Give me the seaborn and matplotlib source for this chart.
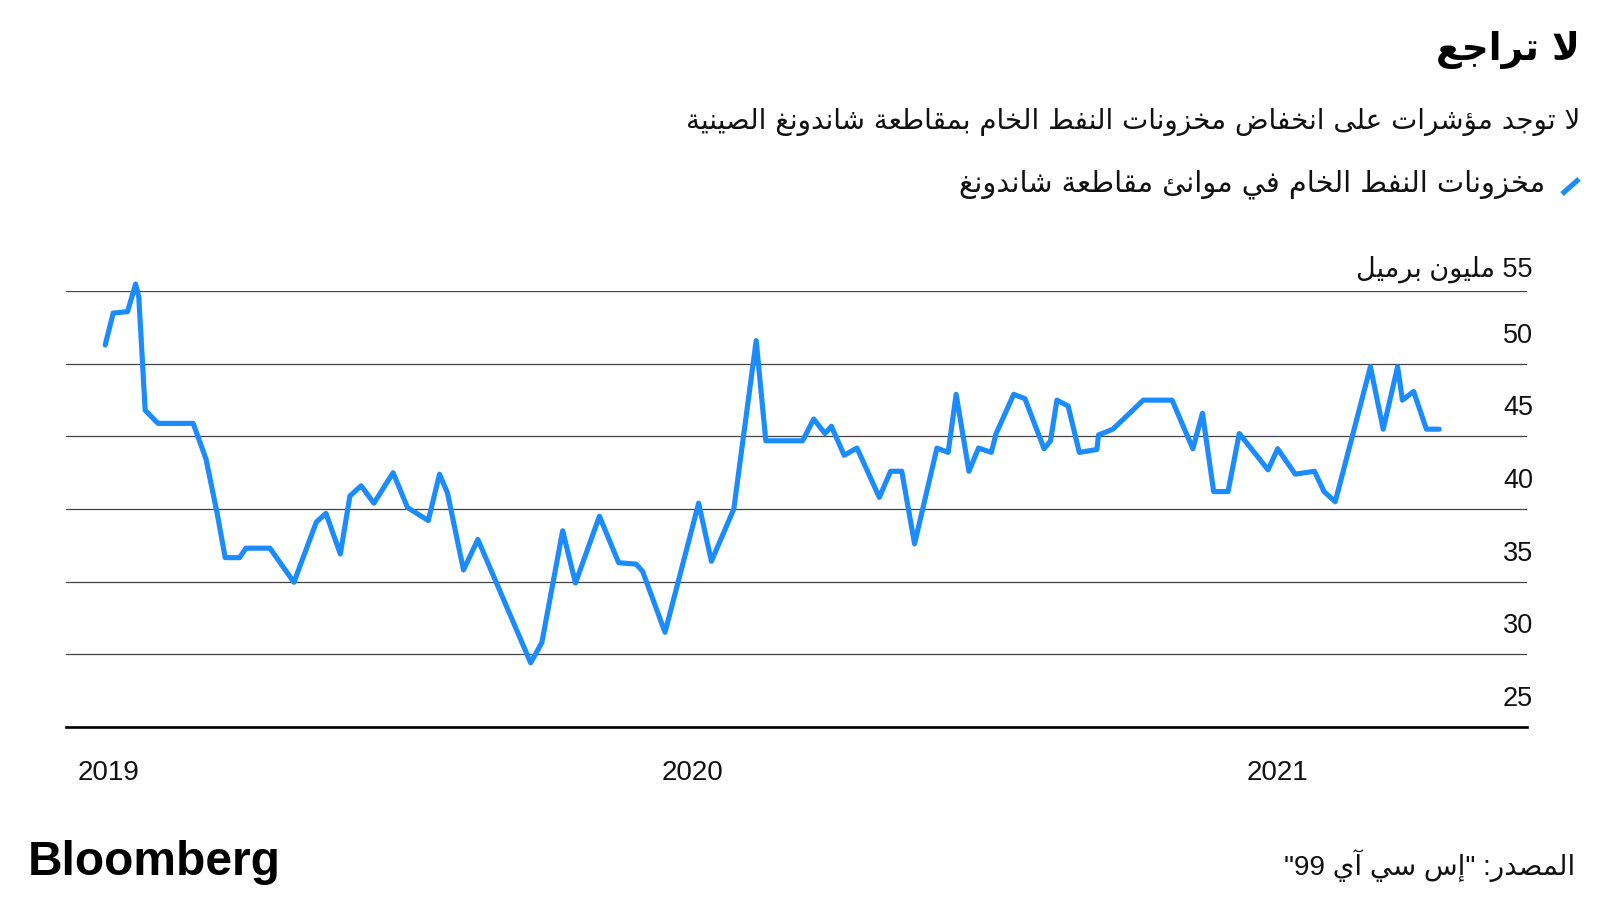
import re
import numpy as np
import pandas as pd
import matplotlib
matplotlib.use("Agg")
import matplotlib.pyplot as plt
import matplotlib.dates as mdates
import matplotlib.transforms as mtrans
from matplotlib.lines import Line2D
import seaborn as sns

# ---------------- data ----------------
dates = [
    "2018-12-30", "2019-01-04", "2019-01-13", "2019-01-18", "2019-01-20", "2019-01-24",
    "2019-02-01", "2019-02-23", "2019-03-03", "2019-03-10", "2019-03-15", "2019-03-24",
    "2019-03-28", "2019-04-12", "2019-04-27", "2019-05-11", "2019-05-17", "2019-05-26",
    "2019-06-01", "2019-06-08", "2019-06-16", "2019-06-28", "2019-07-07", "2019-07-20",
    "2019-07-27", "2019-08-01", "2019-08-11", "2019-08-20", "2019-09-22", "2019-09-29",
    "2019-10-12", "2019-10-20", "2019-11-04", "2019-11-16", "2019-11-27", "2019-12-01",
    "2019-12-15", "2020-01-05", "2020-01-13", "2020-01-27", "2020-02-10", "2020-02-16",
    "2020-03-10", "2020-03-17", "2020-03-24", "2020-03-28", "2020-04-05", "2020-04-13",
    "2020-04-27", "2020-05-04", "2020-05-11", "2020-05-19", "2020-06-02", "2020-06-09",
    "2020-06-14", "2020-06-22", "2020-06-28", "2020-07-06", "2020-07-09", "2020-07-20",
    "2020-07-27", "2020-08-08", "2020-08-12", "2020-08-16", "2020-08-23", "2020-08-30",
    "2020-09-10", "2020-09-11", "2020-09-20", "2020-10-09", "2020-10-27", "2020-11-09",
    "2020-11-15", "2020-11-22", "2020-12-01", "2020-12-08", "2020-12-26", "2021-01-01",
    "2021-01-12", "2021-01-24", "2021-01-30", "2021-02-06", "2021-02-28", "2021-03-08",
    "2021-03-17", "2021-03-20", "2021-03-27", "2021-04-04", "2021-04-12",
]
values = [
    51.3, 53.5, 53.6, 55.5, 54.6, 46.8,
    45.9, 45.9, 43.45, 39.7, 36.65, 36.65,
    37.3, 37.3, 34.95, 39.1, 39.7, 36.9,
    40.9, 41.6, 40.4, 42.5, 40.1, 39.2,
    42.4, 41.1, 35.8, 37.9, 29.4, 30.8,
    38.5, 34.9, 39.5, 36.3, 36.2, 35.7,
    31.5, 40.4, 36.4, 40.0, 51.6, 44.7,
    44.7, 46.2, 45.2, 45.7, 43.7, 44.2,
    40.8, 42.6, 42.6, 37.6, 44.2, 43.9,
    47.9, 42.6, 44.2, 43.9, 45.2, 47.9,
    47.6, 44.15, 44.7, 47.5, 47.1, 43.9,
    44.1, 45.1, 45.5, 47.5, 47.5, 44.15,
    46.6, 41.2, 41.2, 45.2, 42.7, 44.15,
    42.4, 42.6, 41.2, 40.5, 49.8, 45.5,
    49.8, 47.5, 48.1, 45.5, 45.5,
]
y_ticks = [25, 30, 35, 40, 45, 50, 55]
y_unit = "مليون برميل"

title_text = "لا تراجع"
subtitle_text = "لا توجد مؤشرات على انخفاض مخزونات النفط الخام بمقاطعة شاندونغ الصينية"
legend_text = "مخزونات النفط الخام في موانئ مقاطعة شاندونغ"
source_text = 'المصدر: "إس سي آي 99"'
brand_text = "Bloomberg"

# ---------------- simple Arabic shaping ----------------
DUAL = {'ئ': 0xFE89, 'ب': 0xFE8F, 'ت': 0xFE95, 'ث': 0xFE99, 'ج': 0xFE9D, 'ح': 0xFEA1,
        'خ': 0xFEA5, 'س': 0xFEB1, 'ش': 0xFEB5, 'ص': 0xFEB9, 'ض': 0xFEBD, 'ط': 0xFEC1,
        'ظ': 0xFEC5, 'ع': 0xFEC9, 'غ': 0xFECD, 'ف': 0xFED1, 'ق': 0xFED5, 'ك': 0xFED9,
        'ل': 0xFEDD, 'م': 0xFEE1, 'ن': 0xFEE5, 'ه': 0xFEE9, 'ي': 0xFEF1}
RIGHT = {'آ': 0xFE81, 'أ': 0xFE83, 'ؤ': 0xFE85, 'إ': 0xFE87, 'ا': 0xFE8D, 'ة': 0xFE93,
         'د': 0xFEA9, 'ذ': 0xFEAB, 'ر': 0xFEAD, 'ز': 0xFEAF, 'و': 0xFEED, 'ى': 0xFEEF}
NONJ = {'ء': 0xFE80}
LAMALEF = {'آ': 0xFEF5, 'أ': 0xFEF7, 'إ': 0xFEF9, 'ا': 0xFEFB}


def shape(text):
    toks = []
    i = 0
    while i < len(text):
        c = text[i]
        if c == 'ل' and i + 1 < len(text) and text[i + 1] in LAMALEF:
            toks.append(('R', LAMALEF[text[i + 1]], None))
            i += 2
            continue
        if c in DUAL:
            toks.append(('D', DUAL[c], None))
        elif c in RIGHT:
            toks.append(('R', RIGHT[c], None))
        elif c in NONJ:
            toks.append(('U', NONJ[c], None))
        else:
            toks.append((None, None, c))
        i += 1
    out = []
    for k, (t, base, raw) in enumerate(toks):
        if t is None:
            out.append(raw)
            continue
        prev_j = k > 0 and toks[k - 1][0] == 'D' and t in ('D', 'R')
        next_j = t == 'D' and k + 1 < len(toks) and toks[k + 1][0] in ('D', 'R')
        if t == 'U':
            idx = 0
        elif t == 'R':
            idx = 1 if prev_j else 0
        else:
            idx = {(False, False): 0, (True, False): 1, (False, True): 2, (True, True): 3}[(prev_j, next_j)]
        out.append(chr(base + idx))
    vis = ''.join(out)[::-1]
    vis = re.sub(r'[0-9A-Za-z.]+', lambda m: m.group(0)[::-1], vis)
    return vis


# ---------------- style ----------------
BLUE = "#1a8cff"
sns.set_theme(style="white")
plt.rcParams['font.family'] = ['DejaVu Sans']
LAT = ['Liberation Sans', 'DejaVu Sans']

fig = plt.figure(figsize=(16, 9), dpi=100)
fig.patch.set_facecolor("white")

L, R, T, B = 66, 1526.5, 291.3, 726.7
ax = fig.add_axes([L / 1600, 1 - B / 900, (R - L) / 1600, (B - T) / 900])

df = pd.DataFrame({"date": pd.to_datetime(dates), "value": values})
sns.lineplot(data=df, x="date", y="value", ax=ax, color=BLUE, linewidth=3.7,
             clip_on=False, zorder=5)

ax.set_ylim(y_ticks[0], y_ticks[-1])
ax.set_xlim(pd.Timestamp("2018-12-05 12:00"), pd.Timestamp("2021-06-05 14:00"))
ax.set_xlabel("")
ax.set_ylabel("")

ax.set_yticks(y_ticks)
ax.set_yticklabels([])
ax.tick_params(axis="y", length=0)
ax.grid(axis="y", color="#444444", linewidth=0.9)
ax.grid(axis="x", visible=False)

for s in ["left", "right", "top"]:
    ax.spines[s].set_visible(False)
ax.spines["bottom"].set_color("black")
ax.spines["bottom"].set_linewidth(1.9)
ax.spines["bottom"].set_zorder(6)

ax.xaxis.set_major_locator(mdates.YearLocator())
ax.xaxis.set_major_formatter(mdates.DateFormatter("%Y"))
ax.tick_params(axis="x", direction="out", length=9, width=1.0, color="black",
               pad=15, labelsize=20, labelcolor="#111111")
for lbl in ax.get_xticklabels():
    lbl.set_family(LAT)

# y labels above gridlines on the right
blend = mtrans.blended_transform_factory(ax.transAxes, ax.transData)
for v in y_ticks:
    if v == y_ticks[-1]:
        lab = shape(f"{v} {y_unit}")
        dy = 22
    else:
        lab = str(v)
        dy = 28
    tr = blend + mtrans.ScaledTranslation(6.5 / 100, dy / 100, fig.dpi_scale_trans)
    ax.text(1.0, v, lab, transform=tr, ha="right", va="center",
            fontsize=19.5, color="#111111", family=LAT)

# titles
fig.text(1580 / 1600, 1 - 50 / 900, shape(title_text), ha="right", va="center",
         fontsize=27, fontweight="bold", color="black")
fig.text(1580 / 1600, 1 - 122 / 900, shape(subtitle_text), ha="right", va="center",
         fontsize=20, color="#111111")
fig.text(1545 / 1600, 1 - 184 / 900, shape(legend_text), ha="right", va="center",
         fontsize=20.8, color="#111111")
fig.add_artist(Line2D([1562 / 1600, 1579 / 1600], [1 - 194 / 900, 1 - 179 / 900],
                      color=BLUE, linewidth=3.7, solid_capstyle="butt"))

# footer
fig.text(28 / 1600, 1 - 875 / 900, brand_text, ha="left", va="baseline",
         fontsize=34.5, fontweight="bold", color="black", family=LAT)
fig.text(1575 / 1600, 1 - 866 / 900, shape(source_text), ha="right", va="center",
         fontsize=20, color="#111111", family=LAT)

fig.savefig("out.png", dpi=100, facecolor="white")
